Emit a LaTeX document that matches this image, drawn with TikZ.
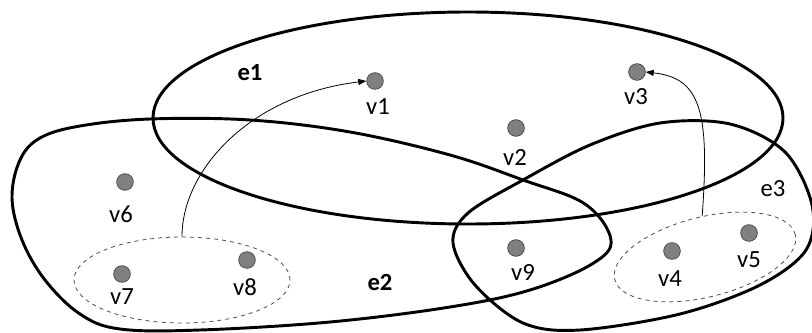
\documentclass[tikz,border=0pt]{standalone}
\usepackage{fontspec}
\setmainfont{Carlito}
\usetikzlibrary{shapes.geometric,arrows.meta}
\begin{document}
\begin{tikzpicture}[x=0.75pt,y=-0.75pt,
  hyper/.style={line width=2.2pt,black},
  vert/.style={circle,draw=black!70,fill=black!50,line width=0.6pt,minimum size=12.5pt,inner sep=0pt},
  vlab/.style={font=\fontsize{18.5}{20}\selectfont,text=black,inner sep=0pt},
  elab/.style={font=\fontsize{18.5}{20}\selectfont\bfseries,text=black,inner sep=0pt},
  grp/.style={ellipse,draw=black!70,dashed,line width=0.6pt,inner sep=0pt},
  arr/.style={line width=0.6pt,-{Triangle[length=6pt,width=4.5pt]}}]
\useasboundingbox (0,0) rectangle (812,332);
% hyperedges
\draw[hyper] (468,118) ellipse [x radius=315, y radius=106];
\draw[hyper] plot[smooth cycle,tension=0.6] coordinates {(12,198) (20,160) (40,138) (80,126) (150,119) (250,120) (350,132) (450,155) (523,180) (585,204) (611,240) (592,264) (530,290) (450,307) (330,322) (200,330) (120,329) (80,314) (45,280) (22,240)};
\draw[hyper] plot[smooth cycle,tension=0.55] coordinates {(453,243) (468,213) (523,180) (590,145) (660,123) (730,124) (785,152) (812,205) (806,250) (760,285) (680,314) (580,330) (523,323) (475,285)};
% groups
\node[grp,minimum width=162pt,minimum height=64.5pt] (g1) at (182,280) {};
\node[grp,minimum width=139.5pt,minimum height=60pt,rotate=14] (g2) at (705,257) {};
% vertices
\node[vert] (v1) at (375,81) {};
\node[vert] (v2) at (516,128) {};
\node[vert] (v3) at (637,72) {};
\node[vert] (v4) at (672,251) {};
\node[vert] (v5) at (749,233) {};
\node[vert] (v6) at (125,182) {};
\node[vert] (v7) at (122,274) {};
\node[vert] (v8) at (247,260) {};
\node[vert] (v9) at (516,248) {};
% labels
\node[vlab] (t1) at (378,107) {v1};
\node[vlab] (t2) at (515,157) {v2};
\node[vlab] (t3) at (636,97) {v3};
\node[vlab] (t4) at (670,279) {v4};
\node[vlab] (t5) at (749,260) {v5};
\node[vlab] (t6) at (121,214) {v6};
\node[vlab] (t7) at (122,297) {v7};
\node[vlab] (t8) at (245,287) {v8};
\node[vlab] (t9) at (523,272) {v9};
\node[elab] (e1) at (250,73) {e1};
\node[elab] (e2) at (380,282) {e2};
\node[vlab] (e3) at (773,189) {e3};
% arrows
\draw[arr] (g1.north) .. controls (182,170) and (250,95) .. (v1.west);
\draw[arr] (g2.80) .. controls (710,110) and (700,78) .. (v3.east);
\end{tikzpicture}
\end{document}
